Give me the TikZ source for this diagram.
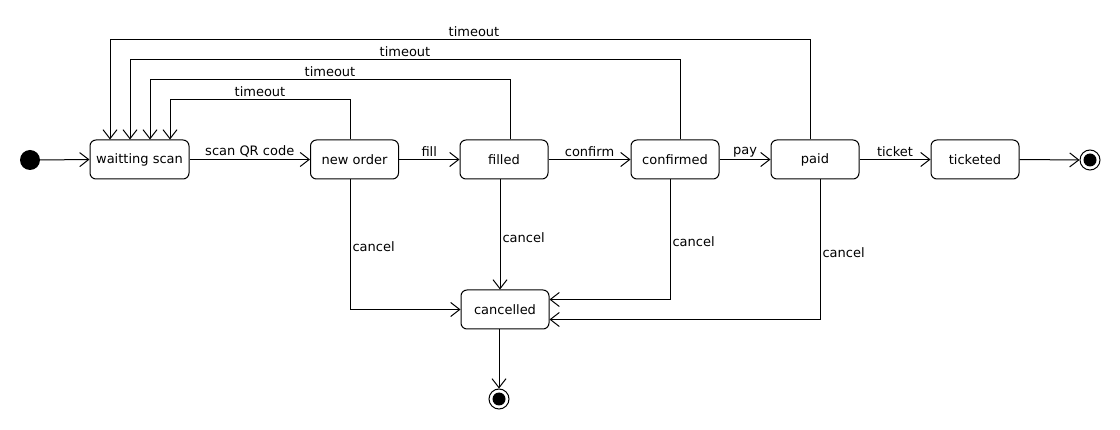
\documentclass[tikz,border=0pt]{standalone}
\usepackage{fontspec}
\setmainfont{DejaVu Sans}
\usetikzlibrary{arrows.meta}
\begin{document}
\begin{tikzpicture}[x=1pt,y=-1pt,
  line width=1pt,
  every node/.style={font=\fontsize{13}{15}\selectfont},
  state/.style={draw,rounded corners=6pt,minimum width=88pt,minimum height=39pt,inner sep=2pt},
  arr/.style={-{Straight Barb[length=9pt,width=14pt,line width=1pt]}},
  lbl/.style={inner sep=2pt},
]
\useasboundingbox (0,0) rectangle (1120,430);
\fill (30,160) circle (10);
\coordinate (init) at (40,160);
\node[state,minimum width=99pt] (ws) at (139.5,159.5) {waitting scan};
\node[state] (no) at (354.5,159.5) {new order};
\node[state] (fi) at (504,159.5) {filled};
\node[state] (co) at (675,159.5) {confirmed};
\node[state] (pa) at (815,159.5) {paid};
\node[state] (ti) at (975,159.5) {ticketed};
\node[state] (ca) at (505,309.5) {cancelled};
\node[circle,draw,minimum size=20pt,inner sep=0pt] (end1) at (1090,160) {};
\fill (end1.center) circle (6.5);
\node[circle,draw,minimum size=20pt,inner sep=0pt] (end2) at (499,399) {};
\fill (end2.center) circle (6.5);

\draw[arr] (init) -- (ws.west);
\draw[arr] (ws.east) -- node[lbl,above]{scan QR code} (no.west);
\draw[arr] (no.east) -- node[lbl,above]{fill} (fi.west);
\draw[arr] (fi.east) -- node[lbl,above]{confirm} (co.west);
\draw[arr] (co.east) -- node[lbl,above]{pay} (pa.west);
\draw[arr] (pa.east) -- node[lbl,above]{ticket} (ti.west);
\draw[arr] (ti.east) -- (end1.west);
\draw[arr] (ca.south -| end2) -- (end2.north);

% timeouts
\draw[arr] ([xshift=-4.5pt]no.north) -- ++(0,-40) -| node[lbl,above,pos=0.25]{timeout} ([xshift=30.5pt]ws.north);
\draw[arr] ([xshift=6pt]fi.north) -- ++(0,-60) -| node[lbl,above,pos=0.25]{timeout} ([xshift=10.5pt]ws.north);
\draw[arr] ([xshift=5pt]co.north) -- ++(0,-80) -| node[lbl,above,pos=0.25]{timeout} ([xshift=-9.5pt]ws.north);
\draw[arr] ([xshift=-5pt]pa.north) -- ++(0,-100) -| node[lbl,above,pos=0.24]{timeout} ([xshift=-29.5pt]ws.north);

% cancels
\draw[arr] ([xshift=-4.5pt]no.south) |- node[lbl,right,pos=0.26]{cancel} (ca.west);
\draw[arr] ([xshift=-4pt]fi.south) -- node[lbl,right,pos=0.53]{cancel} ([xshift=-5pt]ca.north);
\draw[arr] ([xshift=-5pt]co.south) |- node[lbl,right,pos=0.26]{cancel} ([yshift=10pt]ca.east);
\draw[arr] ([xshift=5pt]pa.south) |- node[lbl,right,pos=0.26]{cancel} ([yshift=-10pt]ca.east);
\end{tikzpicture}
\end{document}
